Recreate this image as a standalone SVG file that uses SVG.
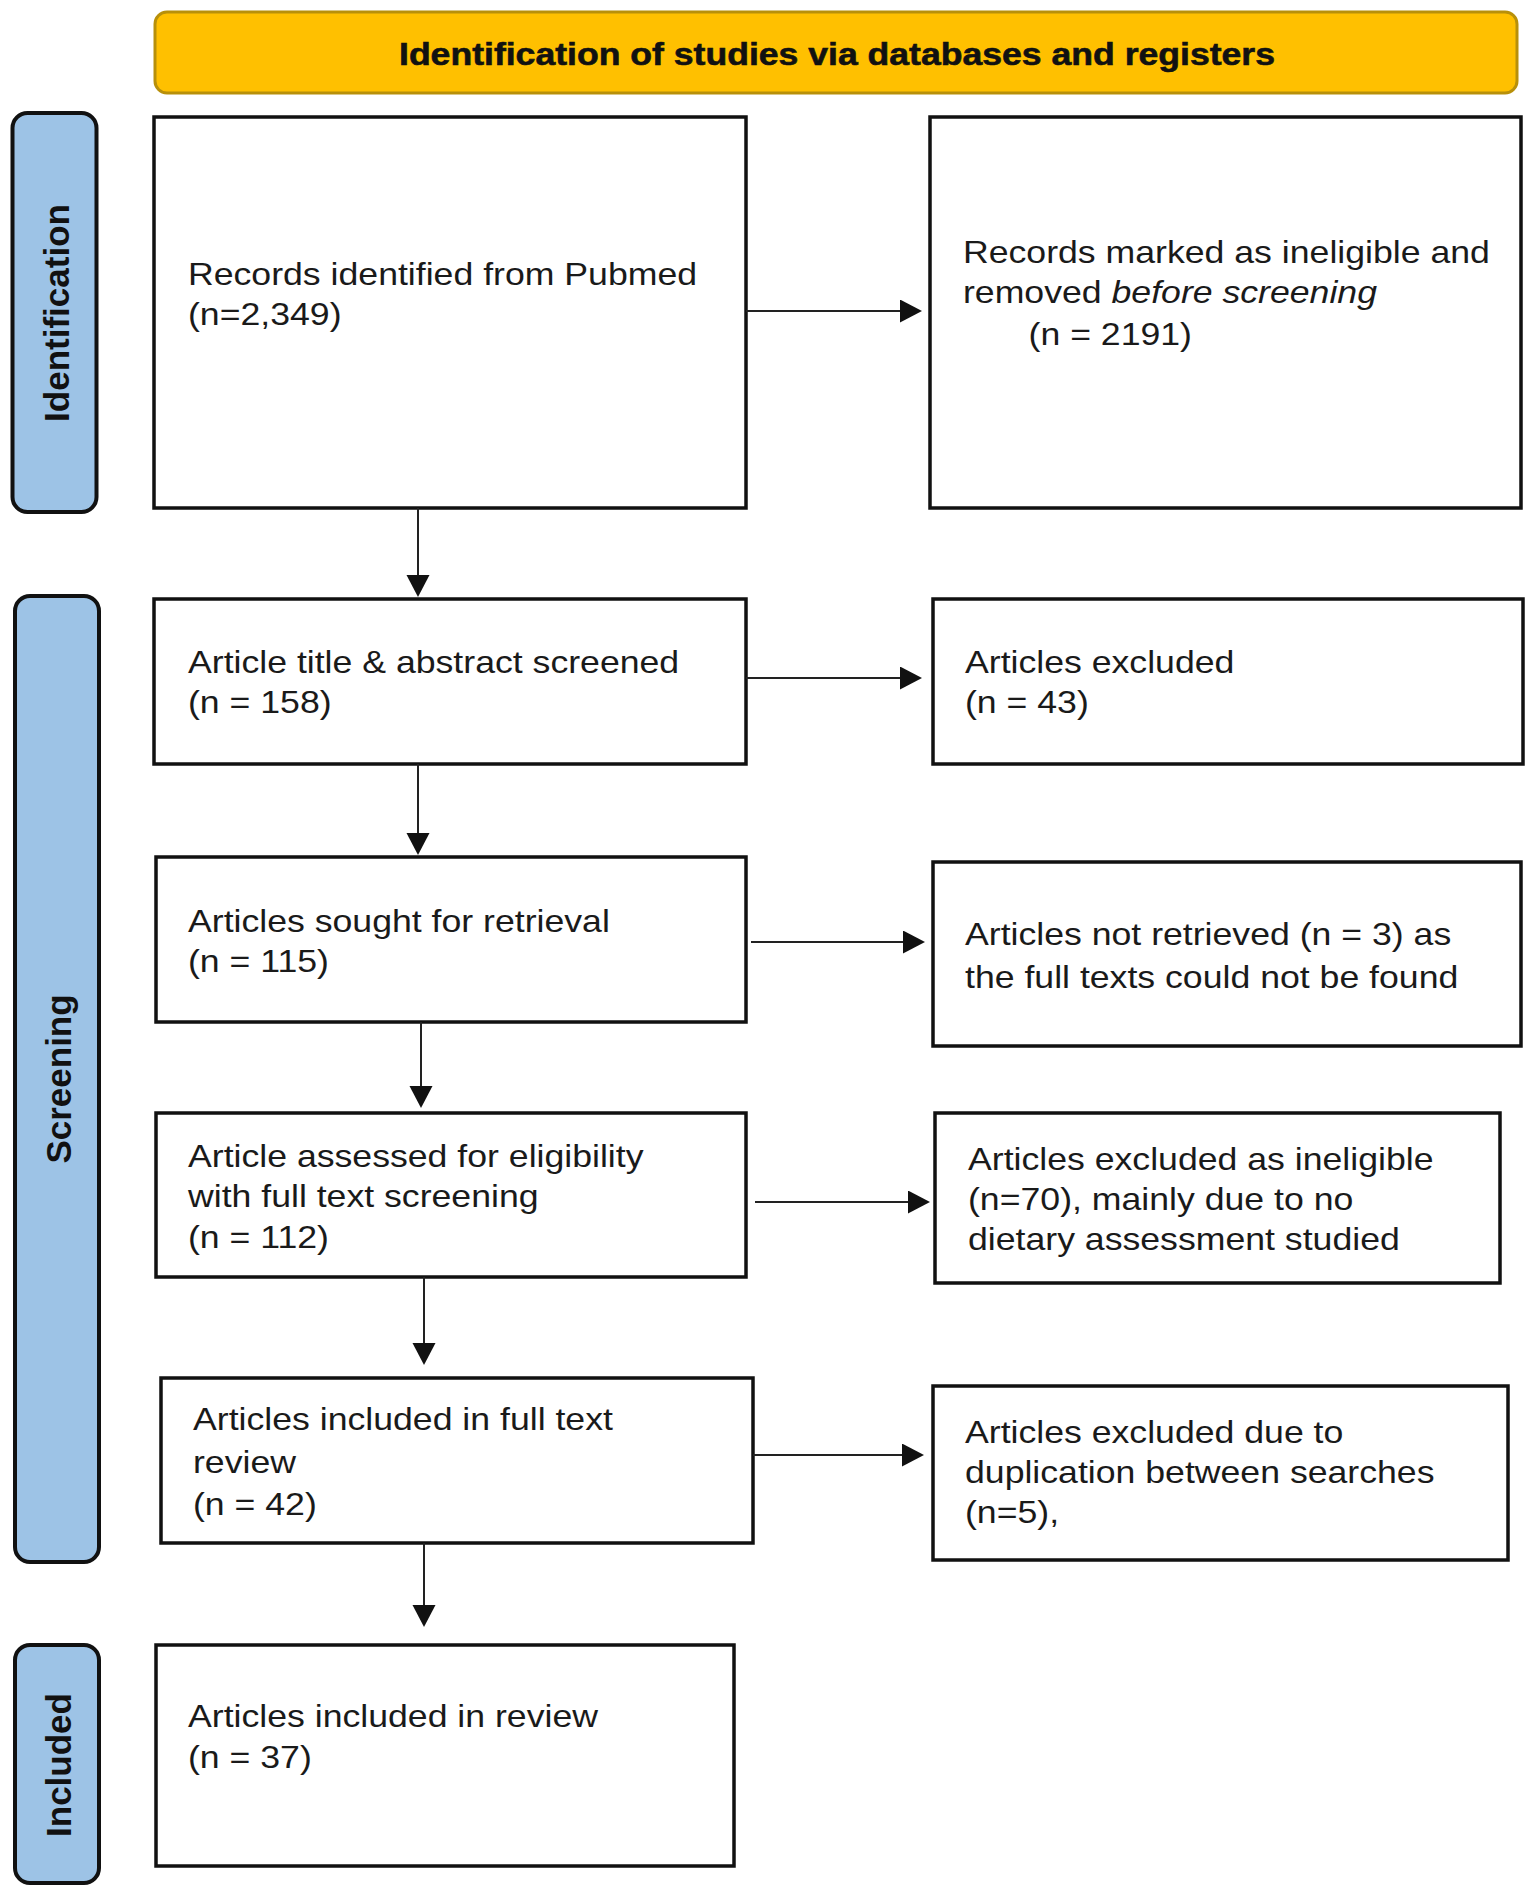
<svg xmlns="http://www.w3.org/2000/svg" width="1535" height="1898" viewBox="0 0 1535 1898">
<style>
.box{fill:#fff;stroke:#111;stroke-width:3.5}
.lane{fill:#9DC3E6;stroke:#111;stroke-width:4}
.lanet{font-family:"Liberation Sans",Arial,sans-serif;font-weight:bold;font-size:35px;fill:#111;text-anchor:middle}
.t{font-family:"Liberation Sans",Arial,sans-serif;font-size:31px;fill:#1a1a1a}
.conn{stroke:#222;stroke-width:2;fill:none}
</style>
<defs>
<marker id="ah" markerUnits="userSpaceOnUse" markerWidth="24" markerHeight="24" refX="20" refY="11.5" orient="auto">
<path d="M0,0 L22,11.5 L0,23 Z" fill="#111"/>
</marker>
</defs>
<rect width="1535" height="1898" fill="#fff"/>

<g id="header">
<rect x="155" y="12" width="1362" height="81" rx="12" fill="#FFC000" stroke="#B8900A" stroke-width="3"/>
<text x="837" y="65" font-family="Liberation Sans, Arial, sans-serif" font-weight="bold" font-size="32" fill="#111" stroke="#111" stroke-width="0.6" text-anchor="middle" textLength="876" lengthAdjust="spacingAndGlyphs">Identification of studies via databases and registers</text>
</g>

<g id="lane-identification">
<rect class="lane" x="12.5" y="113" width="84" height="399" rx="15"/>
<text class="lanet" transform="translate(69,313) rotate(-90)">Identification</text>
</g>
<g id="lane-screening">
<rect class="lane" x="15" y="596" width="84" height="966" rx="15"/>
<text class="lanet" transform="translate(71,1079) rotate(-90)">Screening</text>
</g>
<g id="lane-included">
<rect class="lane" x="15" y="1645" width="84" height="238" rx="15"/>
<text class="lanet" transform="translate(71,1765) rotate(-90)">Included</text>
</g>

<g id="n1">
<rect class="box" x="154" y="117" width="592" height="391"/>
<g transform="translate(188,0) scale(1.15,1)"><text class="t" x="0" y="285">Records identified from Pubmed</text><text class="t" x="0" y="325">(n=2,349)</text></g>
</g>
<g id="n2">
<rect class="box" x="930" y="117" width="591" height="391"/>
<g transform="translate(963,0) scale(1.15,1)"><text class="t" x="0" y="263">Records marked as ineligible and</text><text class="t" x="0" y="303">removed <tspan font-style="italic">before screening</tspan></text><text class="t" x="57" y="345">(n = 2191)</text></g>
</g>
<g id="n3">
<rect class="box" x="154" y="599" width="592" height="165"/>
<g transform="translate(188,0) scale(1.15,1)"><text class="t" x="0" y="673">Article title &amp; abstract screened</text><text class="t" x="0" y="713">(n = 158)</text></g>
</g>
<g id="n4">
<rect class="box" x="933" y="599" width="590" height="165"/>
<g transform="translate(965,0) scale(1.15,1)"><text class="t" x="0" y="673">Articles excluded</text><text class="t" x="0" y="713">(n = 43)</text></g>
</g>
<g id="n5">
<rect class="box" x="156" y="857" width="590" height="165"/>
<g transform="translate(188,0) scale(1.15,1)"><text class="t" x="0" y="932">Articles sought for retrieval</text><text class="t" x="0" y="972">(n = 115)</text></g>
</g>
<g id="n6">
<rect class="box" x="933" y="862" width="588" height="184"/>
<g transform="translate(965,0) scale(1.15,1)"><text class="t" x="0" y="945">Articles not retrieved (n = 3) as</text><text class="t" x="0" y="988">the full texts could not be found</text></g>
</g>
<g id="n7">
<rect class="box" x="156" y="1113" width="590" height="164"/>
<g transform="translate(188,0) scale(1.15,1)"><text class="t" x="0" y="1167">Article assessed for eligibility</text><text class="t" x="0" y="1207">with full text screening</text><text class="t" x="0" y="1248">(n = 112)</text></g>
</g>
<g id="n8">
<rect class="box" x="935" y="1113" width="565" height="170"/>
<g transform="translate(968,0) scale(1.15,1)"><text class="t" x="0" y="1170">Articles excluded as ineligible</text><text class="t" x="0" y="1210">(n=70), mainly due to no</text><text class="t" x="0" y="1250">dietary assessment studied</text></g>
</g>
<g id="n9">
<rect class="box" x="161" y="1378" width="592" height="165"/>
<g transform="translate(193,0) scale(1.15,1)"><text class="t" x="0" y="1430">Articles included in full text</text><text class="t" x="0" y="1473">review</text><text class="t" x="0" y="1515">(n = 42)</text></g>
</g>
<g id="n10">
<rect class="box" x="933" y="1386" width="575" height="174"/>
<g transform="translate(965,0) scale(1.15,1)"><text class="t" x="0" y="1443">Articles excluded due to</text><text class="t" x="0" y="1483">duplication between searches</text><text class="t" x="0" y="1523">(n=5),</text></g>
</g>
<g id="n11">
<rect class="box" x="156" y="1645" width="578" height="221"/>
<g transform="translate(188,0) scale(1.15,1)"><text class="t" x="0" y="1727">Articles included in review</text><text class="t" x="0" y="1768">(n = 37)</text></g>
</g>

<g id="connectors">
<line class="conn" x1="418" y1="508" x2="418" y2="595" marker-end="url(#ah)"/>
<line class="conn" x1="418" y1="764" x2="418" y2="853" marker-end="url(#ah)"/>
<line class="conn" x1="421" y1="1022" x2="421" y2="1106" marker-end="url(#ah)"/>
<line class="conn" x1="424" y1="1277" x2="424" y2="1363" marker-end="url(#ah)"/>
<line class="conn" x1="424" y1="1543" x2="424" y2="1625" marker-end="url(#ah)"/>
<line class="conn" x1="746" y1="311" x2="920" y2="311" marker-end="url(#ah)"/>
<line class="conn" x1="746" y1="678" x2="920" y2="678" marker-end="url(#ah)"/>
<line class="conn" x1="751" y1="942" x2="923" y2="942" marker-end="url(#ah)"/>
<line class="conn" x1="755" y1="1202" x2="928" y2="1202" marker-end="url(#ah)"/>
<line class="conn" x1="753" y1="1455" x2="922" y2="1455" marker-end="url(#ah)"/>
</g>
</svg>
